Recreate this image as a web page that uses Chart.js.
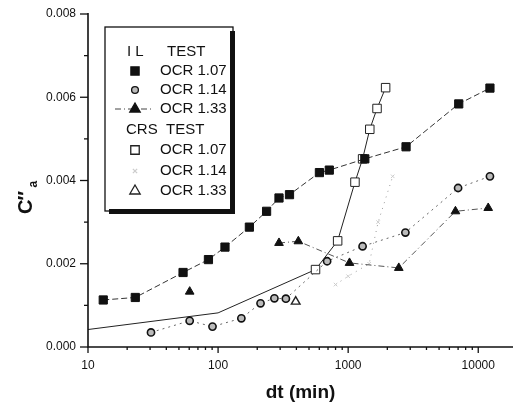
<!DOCTYPE html>
<html>
<head>
<meta charset="utf-8">
<script src="https://cdn.jsdelivr.net/npm/chart.js@4/dist/chart.umd.min.js"></script>
<style>
  html, body { margin: 0; padding: 0; background: #fff; }
  #wrap { width: 520px; height: 407px; }
</style>
</head>
<body>
<div id="wrap"><canvas id="chart-C"></canvas></div>
<script>
const FONT = "'Liberation Sans', Arial, Helvetica, sans-serif";

// IL test
const ilX107 = [13.1, 23.1, 53.8, 84.3, 113, 174, 236, 294, 354, 601, 716, 1343, 2786, 7080, 12300];
const ilY107 = [0.00113, 0.00119, 0.00179, 0.0021, 0.0024, 0.00288, 0.00326, 0.00358, 0.00366, 0.00419, 0.00425, 0.00452, 0.00481, 0.00584, 0.00622];
const ilX114 = [30.5, 60.5, 90.6, 151, 212, 271, 332, 689, 1291, 2754, 7000, 12300];
const ilY114 = [0.00035, 0.00063, 0.00049, 0.00069, 0.00105, 0.00117, 0.00116, 0.00206, 0.00242, 0.00275, 0.00382, 0.0041];
const ilX133 = [60.5, 294, 414, 1024, 2450, 6680, 11930];
const ilY133 = [0.00133, 0.0025, 0.00254, 0.00202, 0.0019, 0.00326, 0.00334];

// CRS test
const crsX107 = [10, 100, 561, 830, 1128, 1291, 1466, 1667, 1941];
const crsY107 = [0.00042, 0.00082, 0.00186, 0.00255, 0.00396, 0.00452, 0.00523, 0.00573, 0.00623];
const crsX114 = [800, 1000, 1450, 1700, 2200];
const crsY114 = [0.0015, 0.0017, 0.002, 0.003, 0.0041];
const crsX133 = [395];
const crsY133 = [0.00109];

const yTicks = [0, 0.001, 0.002, 0.003, 0.004, 0.005, 0.006, 0.007, 0.008];
const xDecades = [10, 100, 1000, 10000];
const legendRows = ['OCR 1.07', 'OCR 1.14', 'OCR 1.33'];

function pts(xs, ys) {
    return xs.map(function (x, i) { return { x: x, y: ys[i] }; });
}

const decor = {
    id: 'decor',
    afterDraw(chart) {
        const ctx = chart.ctx;
        const xs = chart.scales.x, ys = chart.scales.y;
        const L = xs.left, B = ys.bottom;
        ctx.save();
        ctx.strokeStyle = '#111';
        ctx.lineWidth = 1.6;
        ctx.beginPath();
        ctx.moveTo(L, ys.top - 1);
        ctx.lineTo(L, B);
        ctx.lineTo(xs.right, B);
        ctx.stroke();

        // y ticks
        ctx.lineWidth = 1.3;
        yTicks.forEach(function (v, i) {
            const py = ys.getPixelForValue(v);
            const len = i % 2 === 0 ? 8 : 4;
            ctx.beginPath();
            ctx.moveTo(L - len, py);
            ctx.lineTo(L, py);
            ctx.stroke();
        });
        // x ticks
        xDecades.forEach(function (d) {
            for (let m = 1; m < 10; m++) {
                const v = m * d;
                if (v > xs.max) break;
                const px = xs.getPixelForValue(v);
                const len = m === 1 ? 6 : 3;
                ctx.beginPath();
                ctx.moveTo(px, B);
                ctx.lineTo(px, B + len);
                ctx.stroke();
            }
        });

        // axis titles
        ctx.fillStyle = '#111';
        ctx.textAlign = 'center';
        ctx.textBaseline = 'middle';
        ctx.font = 'bold 19px ' + FONT;
        ctx.fillText('dt (min)', (L + xs.right) / 2, 393);

        ctx.translate(25, 214);
        ctx.rotate(-Math.PI / 2);
        ctx.textAlign = 'left';
        ctx.textBaseline = 'alphabetic';
        ctx.font = 'bold 20px ' + FONT;
        ctx.fillText('C', 0, 7);
        const cw = ctx.measureText('C').width;
        ctx.fillText('\u2033', cw - 1, 7);
        ctx.font = 'bold 12px ' + FONT;
        ctx.fillText('a', cw + 12, 12);
        ctx.restore();

        // legend box
        ctx.save();
        ctx.fillStyle = '#fff';
        ctx.fillRect(105, 27, 128, 184);
        ctx.fillStyle = '#111';
        ctx.fillRect(230, 31, 5, 183);
        ctx.fillRect(109, 209, 126, 5);
        ctx.strokeStyle = '#111';
        ctx.lineWidth = 1.3;
        ctx.strokeRect(105, 27, 128, 184);

        ctx.font = '15px ' + FONT;
        ctx.textBaseline = 'middle';
        ctx.textAlign = 'left';
        ctx.fillText('I L', 127, 52);
        ctx.fillText('TEST', 167, 52);
        ctx.fillText('CRS  TEST', 126, 130);

        const rowsY = [71, 90, 109, 150, 171, 191];
        const sets = chart.data.datasets;
        rowsY.forEach(function (ry, i) {
            const ds = sets[i];
            ctx.fillStyle = '#111';
            ctx.fillText(legendRows[i % 3], 160, ry);
            if (i === 2) {
                ctx.save();
                ctx.strokeStyle = '#444';
                ctx.lineWidth = 1;
                ctx.setLineDash(ds.borderDash);
                ctx.beginPath();
                ctx.moveTo(115, ry);
                ctx.lineTo(152, ry);
                ctx.stroke();
                ctx.restore();
            }
            ctx.save();
            ctx.fillStyle = ds.pointBackgroundColor;
            ctx.strokeStyle = ds.pointBorderColor;
            Chart.helpers.drawPoint(ctx, {
                pointStyle: ds.pointStyle,
                radius: ds.legendRadius,
                rotation: 0,
                borderWidth: ds.pointBorderWidth
            }, 135, ry);
            ctx.restore();
        });
        ctx.restore();
    }
};

const ctxC = document.getElementById('chart-C').getContext('2d');
const chartC = new Chart(ctxC, {
    type: 'scatter',
    data: {
        datasets: [
            {
                label: 'IL OCR 1.07',
                data: pts(ilX107, ilY107),
                showLine: true,
                borderColor: '#333',
                borderWidth: 1,
                borderDash: [6, 3],
                pointStyle: 'rect',
                pointRadius: 5.8,
                legendRadius: 5.8,
                pointBackgroundColor: '#111',
                pointBorderColor: '#111',
                pointBorderWidth: 1
            },
            {
                label: 'IL OCR 1.14',
                data: pts(ilX114, ilY114),
                showLine: true,
                borderColor: '#666',
                borderWidth: 1,
                borderDash: [2, 4],
                pointStyle: 'circle',
                pointRadius: 3.6,
                legendRadius: 3.4,
                pointBackgroundColor: '#bbb',
                pointBorderColor: '#111',
                pointBorderWidth: 1.6
            },
            {
                label: 'IL OCR 1.33',
                data: pts(ilX133, ilY133),
                showLine: true,
                borderColor: '#555',
                borderWidth: 1,
                borderDash: [6, 3, 1, 3],
                segment: {
                    borderColor: function (c) { return c.p0DataIndex === 0 ? 'rgba(0,0,0,0)' : '#555'; }
                },
                pointStyle: 'triangle',
                pointRadius: 5,
                legendRadius: 6,
                pointBackgroundColor: '#111',
                pointBorderColor: '#111',
                pointBorderWidth: 1
            },
            {
                label: 'CRS OCR 1.07',
                data: pts(crsX107, crsY107),
                showLine: true,
                borderColor: '#222',
                borderWidth: 1,
                borderDash: [],
                pointStyle: 'rect',
                pointRadius: [0, 0, 6, 6, 6, 6, 6, 6, 6],
                legendRadius: 6,
                pointBackgroundColor: '#fff',
                pointBorderColor: '#222',
                pointBorderWidth: 1
            },
            {
                label: 'CRS OCR 1.14',
                data: pts(crsX114, crsY114),
                showLine: true,
                borderColor: '#999',
                borderWidth: 1,
                borderDash: [1, 5],
                pointStyle: 'crossRot',
                pointRadius: 2.5,
                legendRadius: 3,
                pointBackgroundColor: '#ccc',
                pointBorderColor: '#ccc',
                pointBorderWidth: 1
            },
            {
                label: 'CRS OCR 1.33',
                data: pts(crsX133, crsY133),
                showLine: false,
                borderColor: '#222',
                borderWidth: 1,
                borderDash: [],
                pointStyle: 'triangle',
                pointRadius: 5,
                legendRadius: 6,
                pointBackgroundColor: '#fff',
                pointBorderColor: '#222',
                pointBorderWidth: 1.4
            }
        ]
    },
    options: {
        responsive: true,
        maintainAspectRatio: false,
        animation: false,
        layout: { padding: { top: 14, right: 1, left: 0, bottom: 0 } },
        plugins: {
            legend: { display: false },
            tooltip: { enabled: false }
        },
        scales: {
            x: {
                type: 'logarithmic',
                min: 10,
                max: 18500,
                grid: { display: false, drawTicks: true, tickLength: 6 },
                border: { display: false },
                afterFit: function (s) { s.height = 60; },
                ticks: {
                    autoSkip: false,
                    maxRotation: 0,
                    padding: 5,
                    color: '#111',
                    font: { family: FONT, size: 12 },
                    callback: function (v) {
                        return xDecades.indexOf(v) >= 0 ? String(v) : '';
                    }
                }
            },
            y: {
                min: 0,
                max: 0.008,
                grid: { display: false, drawTicks: true, tickLength: 8 },
                border: { display: false },
                afterFit: function (s) { s.width = 88; },
                afterBuildTicks: function (s) {
                    s.ticks = yTicks.map(function (v) { return { value: v }; });
                },
                ticks: {
                    autoSkip: false,
                    padding: 4,
                    color: '#111',
                    font: { family: FONT, size: 12 },
                    callback: function (v) {
                        return Math.round(v * 1000) % 2 === 0 ? v.toFixed(3) : '';
                    }
                }
            }
        }
    },
    plugins: [decor]
});
</script>
</body>
</html>
